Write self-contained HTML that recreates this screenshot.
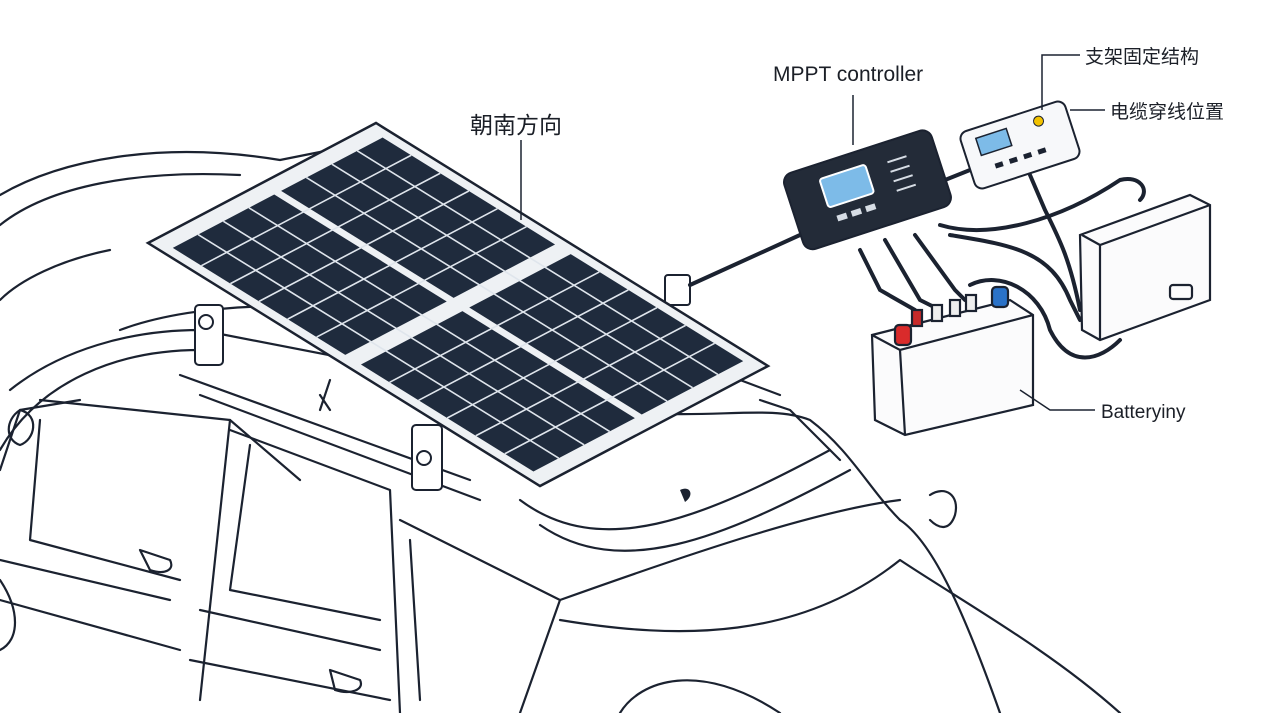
<!DOCTYPE html>
<html><head><meta charset="utf-8"><style>
html,body{margin:0;padding:0;background:#fff;width:1268px;height:713px;overflow:hidden}
svg{display:block}
text{font-family:"Liberation Sans","Noto Sans CJK SC",sans-serif;fill:#1b1f27}
</style></head><body>
<svg width="1268" height="713" viewBox="0 0 1268 713" xmlns="http://www.w3.org/2000/svg">
<g fill="none" stroke="#1b2230" stroke-width="2.2" stroke-linecap="round" stroke-linejoin="round">
<path d="M0,195 C60,160 160,140 280,160 L330,150"/>
<path d="M0,225 C50,185 140,170 240,175"/>
<path d="M0,300 C20,280 60,260 110,250"/>
<path d="M10,390 C60,350 130,330 200,330 L560,400 C680,430 760,400 810,420 C850,450 870,490 900,520"/>
<path d="M0,450 C40,380 120,350 200,350"/>
<path d="M120,330 C200,300 330,300 420,320"/>
<path d="M40,400 L230,420 L300,480"/>
<path d="M0,470 L20,410 L80,400"/>
<path d="M230,420 L200,700"/>
<path d="M230,430 L390,490 L400,713"/>
<path d="M40,420 L30,540 L180,580"/>
<path d="M250,445 L230,590 L380,620"/>
<path d="M400,520 L560,600 L520,713"/>
<path d="M410,540 L420,700"/>
<path d="M520,500 C600,560 700,520 830,450"/>
<path d="M540,525 C620,580 720,540 850,470"/>
<path d="M560,600 C700,550 820,510 900,500"/>
<path d="M560,620 C680,640 800,640 900,560 C960,600 1050,650 1120,713"/>
<path d="M620,713 C640,680 700,660 780,713"/>
<path d="M900,520 C930,540 960,600 1000,713"/>
<path d="M930,495 C945,485 960,495 955,515 C950,530 940,530 930,520"/>
<path d="M760,400 L790,410 L840,460 M740,380 L780,395"/>
<path d="M0,560 L170,600 M0,600 L180,650 M200,610 L380,650 M190,660 L390,700"/>
<path d="M140,550 L170,560 C175,570 165,575 150,570 Z M330,670 L360,680 C365,690 350,695 335,690 Z"/>
<path d="M20,410 C5,420 5,440 20,445 C35,440 40,415 20,410"/>
<path d="M0,580 C20,610 20,640 0,650"/>
<path d="M180,375 L470,480 M200,395 L480,500"/>
<path d="M320,395 L330,410 M330,380 L320,410"/>
</g>
<path d="M680,490 C690,485 695,495 685,502 Z" fill="#1b2230"/>
<g fill="#fff" stroke="#1b2230" stroke-width="2">
<rect x="195" y="305" width="28" height="60" rx="4"/>
<circle cx="206" cy="322" r="7"/>
<rect x="412" y="425" width="30" height="65" rx="4"/>
<circle cx="424" cy="458" r="7"/>
<rect x="665" y="275" width="25" height="30" rx="3"/>
</g>
<g transform="matrix(2.28,-1.2,3.92,2.43,148,243)">
<polygon points="0,0 100,0 100,100 0,100" fill="#eef1f4" stroke="#1b2230" stroke-width="2.5" vector-effect="non-scaling-stroke"/>
<g fill="#1f2b3d">
<rect x="4" y="4" width="44.5" height="44"/>
<rect x="51.5" y="4" width="44.5" height="44"/>
<rect x="4" y="52" width="44.5" height="44"/>
<rect x="51.5" y="52" width="44.5" height="44"/>
</g>
<path d="M4,11.3 H96 M4,18.7 H96 M4,26 H96 M4,33.3 H96 M4,40.7 H96 M4,59.3 H96 M4,66.7 H96 M4,74 H96 M4,81.3 H96 M4,88.7 H96 M15.1,4 V96 M26.2,4 V96 M37.4,4 V96 M62.6,4 V96 M73.8,4 V96 M84.9,4 V96" stroke="#dfe5ec" stroke-width="1.6" vector-effect="non-scaling-stroke"/>
</g>
<g fill="none" stroke="#1b2230" stroke-width="4" stroke-linecap="round">
<path d="M690,285 L800,235"/>
<path d="M860,250 L880,290 L915,310"/>
<path d="M885,240 L920,300 L940,310"/>
<path d="M915,235 L955,290 L965,300"/>
<path d="M940,225 C990,240 1060,220 1120,180 C1140,175 1150,190 1140,200"/>
<path d="M950,235 C1010,245 1050,250 1070,300 L1080,320"/>
<path d="M970,285 C1000,270 1040,290 1050,330 C1070,370 1100,360 1120,340"/>
<path d="M1030,175 L1045,210 C1060,240 1070,260 1080,310"/>
<path d="M945,180 L970,170"/>
</g>
<g transform="rotate(-18 867 190)">
<rect x="790" y="150" width="155" height="80" rx="10" fill="#232b38" stroke="#1b2230" stroke-width="2"/>
<rect x="825" y="165" width="48" height="30" rx="3" fill="#7dbbe8" stroke="#fff" stroke-width="2"/>
<rect x="830" y="205" width="10" height="6" fill="#d7dde5"/><rect x="845" y="205" width="10" height="6" fill="#d7dde5"/><rect x="860" y="205" width="10" height="6" fill="#d7dde5"/>
<g stroke="#d7dde5" stroke-width="2"><path d="M895,170 H915 M895,180 H915 M895,190 H915 M895,200 H915"/></g>
</g>
<g transform="rotate(-18 1020 145)">
<rect x="965" y="115" width="110" height="60" rx="8" fill="#f7f8fa" stroke="#1b2230" stroke-width="2"/>
<rect x="980" y="125" width="32" height="18" fill="#7dbbe8" stroke="#1b2230" stroke-width="1.5"/>
<circle cx="1045" cy="128" r="5" fill="#f2c200" stroke="#1b2230"/>
<g fill="#1b2230"><rect x="990" y="155" width="8" height="5"/><rect x="1005" y="155" width="8" height="5"/><rect x="1020" y="155" width="8" height="5"/><rect x="1035" y="155" width="8" height="5"/></g>
</g>
<g fill="#fbfbfc" stroke="#1b2230" stroke-width="2.2">
<path d="M1080,235 L1190,195 L1210,205 L1210,300 L1100,340 L1082,330 Z"/>
<path d="M1082,235 L1100,245 L1210,205 M1100,245 L1100,340"/>
<rect x="1170" y="285" width="22" height="14" rx="3"/>
</g>
<g stroke="#1b2230" stroke-width="2.2">
<path d="M872,335 L1010,300 L1033,315 L1033,405 L905,435 L875,420 Z" fill="#fbfbfc"/>
<path d="M872,335 L900,350 L1033,315 M900,350 L905,435" fill="none"/>
<rect x="895" y="325" width="16" height="20" rx="4" fill="#d92b2b"/>
<rect x="992" y="287" width="16" height="20" rx="4" fill="#2a72c8"/>
<rect x="912" y="310" width="10" height="16" fill="#c72a2a"/>
<rect x="932" y="305" width="10" height="16" fill="#eee"/><rect x="950" y="300" width="10" height="16" fill="#eee"/><rect x="966" y="295" width="10" height="16" fill="#eee"/>
</g>
<g stroke="#1b2230" stroke-width="1.5" fill="none">
<path d="M521,140 L521,220"/>
<path d="M853,95 L853,145"/>
<path d="M1080,55 L1042,55 L1042,110"/>
<path d="M1105,110 L1070,110"/>
<path d="M1095,410 L1050,410 L1020,390"/>
</g>
<text x="470" y="133" font-size="23">朝南方向</text>
<text x="773" y="81" font-size="21">MPPT controller</text>
<text x="1085" y="63" font-size="19">支架固定结构</text>
<text x="1110" y="118" font-size="19">电缆穿线位置</text>
<text x="1101" y="418" font-size="19">Batteryiny</text>
</svg>
</body></html>
